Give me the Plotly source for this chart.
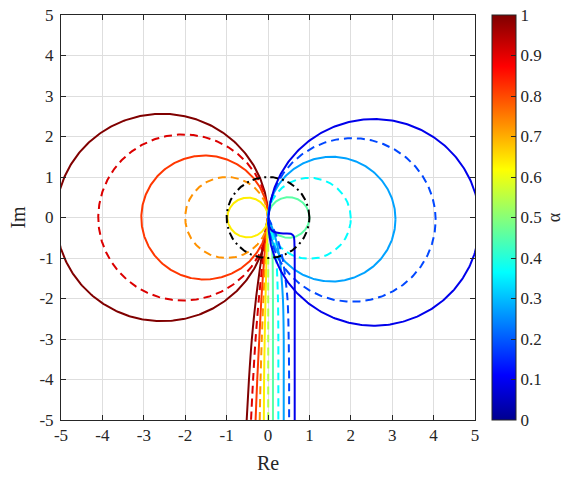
import numpy as np
import plotly.graph_objects as go

# ---------------- data ----------------
# colour value of each curve (colormap position) – 11 curves, from alpha = 1 down
alpha_color = [11/11, 10/11, 9/11, 8/11, 7/11, 6/11, 5/11, 4/11, 3/11, 2/11, 1/11]
line_dash = ["solid", "dash", "solid", "dash", "solid", "dash",
             "solid", "dash", "solid", "dash", "solid"]
# circles through (about) the origin: centre and radius
circle_cx = [-2.56, -2.05, -1.53, -1.00, -0.49, None, 0.50, 1.00, 1.54, 2.03, 2.56]
circle_cy = [0.0, 0.0, 0.0, 0.0, 0.0, None, 0.0, -0.02, -0.04, -0.06, -0.12]
circle_r = [2.56, 2.05, 1.53, 1.00, 0.49, None, 0.50, 1.00, 1.54, 2.02, 2.55]
# tails running from the origin down to Im = -5
tail_y = [0, -0.25, -0.5, -1, -2, -3, -4, -5]
tail_x = [
    [0, -0.05, -0.09, -0.16, -0.29, -0.39, -0.46, -0.515],
    [0, -0.04, -0.07, -0.12, -0.22, -0.30, -0.36, -0.41],
    [0, -0.03, -0.05, -0.09, -0.16, -0.21, -0.26, -0.30],
    [0, -0.02, -0.035, -0.06, -0.11, -0.15, -0.18, -0.20],
    [0, -0.01, -0.02, -0.035, -0.06, -0.08, -0.095, -0.10],
    [0, 0.0, 0.003, 0.005, 0.005, 0.005, 0.005, 0.005],
    [0, 0.05, 0.08, 0.11, 0.12, 0.12, 0.12, 0.12],
    [0, 0.08, 0.14, 0.20, 0.24, 0.25, 0.25, 0.25],
    [0, 0.10, 0.18, 0.28, 0.36, 0.38, 0.38, 0.38],
    [0, 0.12, 0.22, 0.35, 0.47, 0.50, 0.51, 0.51],
    None,
]
# the alpha = 0 tail has a hook
hook_x = [0, 0.03, 0.10, 0.30, 0.55, 0.62, 0.64, 0.645, 0.645, 0.645]
hook_y = [-0.12, -0.22, -0.33, -0.39, -0.40, -0.46, -0.70, -1.0, -3.0, -5.0]

unit_circle_r = 1.0
axis_ticks = [-5, -4, -3, -2, -1, 0, 1, 2, 3, 4, 5]
axis_ticktext = ["-5", "-4", "-3", "-2", "-1", "0", "1", "2", "3", "4", "5"]
cbar_ticks = [0, 0.1, 0.2, 0.3, 0.4, 0.5, 0.6, 0.7, 0.8, 0.9, 1]
cbar_ticktext = ["0", "0.1", "0.2", "0.3", "0.4", "0.5", "0.6", "0.7", "0.8", "0.9", "1"]


# ---------------- MATLAB jet(64) ----------------
def matlab_jet(m=64):
    n = int(np.ceil(m / 4))
    u = np.concatenate([np.arange(1, n + 1) / n, np.ones(n - 1), np.arange(n, 0, -1) / n])
    g = int(np.ceil(n / 2)) - (1 if m % 4 == 1 else 0) + np.arange(1, len(u) + 1)
    r = g + n
    b = g - n
    r = r[r <= m]
    gg = g[g <= m]
    b = b[b >= 1]
    J = np.zeros((m, 3))
    J[r - 1, 0] = u[:len(r)]
    J[gg - 1, 1] = u[:len(gg)]
    J[b - 1, 2] = u[len(u) - len(b):]
    return J


JET = matlab_jet(64)


def jet_color(v):
    pos = v * 63
    i0 = int(np.floor(pos))
    i1 = min(i0 + 1, 63)
    f = pos - i0
    c = JET[i0] * (1 - f) + JET[i1] * f
    return "rgb(%d,%d,%d)" % tuple(np.round(c * 255).astype(int))


colorscale = [[k / 63, "rgb(%d,%d,%d)" % tuple(np.round(JET[k] * 255).astype(int))] for k in range(64)]

SERIF = "Liberation Serif"
TXT = "#262626"
DASH = {"solid": "solid", "dash": "8px,5px"}
LW = 2.0

fig = go.Figure()

for i in range(len(alpha_color)):
    col = jet_color(alpha_color[i])
    dash = DASH[line_dash[i]]
    if circle_r[i] is not None:
        th = np.linspace(0, 2 * np.pi, 400)
        cx, cy, r = circle_cx[i], circle_cy[i], circle_r[i]
        fig.add_trace(go.Scatter(x=cx + r * np.cos(th), y=cy + r * np.sin(th), mode="lines",
                                 line=dict(color=col, width=LW, dash=dash),
                                 showlegend=False, hoverinfo="skip"))
    if tail_x[i] is not None:
        tx, ty = tail_x[i], tail_y
    else:
        tx, ty = hook_x, hook_y
    fig.add_trace(go.Scatter(x=tx, y=ty, mode="lines",
                             line=dict(color=col, width=LW, dash=dash, shape="spline", smoothing=0.8),
                             showlegend=False, hoverinfo="skip"))

th = np.linspace(0, 2 * np.pi, 400)
fig.add_trace(go.Scatter(x=unit_circle_r * np.cos(th), y=unit_circle_r * np.sin(th), mode="lines",
                         line=dict(color="black", width=LW, dash="8px,4px,2px,4px"),
                         showlegend=False, hoverinfo="skip"))

# colorbar holder
fig.add_trace(go.Scatter(x=[None], y=[None], mode="markers",
                         marker=dict(color=[0.5], cmin=0, cmax=1, colorscale=colorscale, showscale=True,
                                     colorbar=dict(x=(492 - 61) / 414, xanchor="left", xpad=0, ypad=0,
                                                   y=0.5, yanchor="middle", len=1, lenmode="fraction",
                                                   thickness=24, outlinewidth=1, outlinecolor=TXT,
                                                   tickvals=cbar_ticks, ticktext=cbar_ticktext,
                                                   ticks="inside", ticklen=5, tickcolor=TXT,
                                                   ticklabeloverflow="allow",
                                                   tickfont=dict(family=SERIF, size=17, color=TXT),
                                                   title=dict(text="α", side="right",
                                                              font=dict(family=SERIF, size=18, color=TXT)))),
                         showlegend=False, hoverinfo="skip"))

axis_common = dict(range=[-5, 5], tickvals=axis_ticks, ticktext=axis_ticktext,
                   showgrid=True, gridcolor="#dedede", gridwidth=1, zeroline=False,
                   showline=True, linecolor=TXT, linewidth=1, mirror="ticks",
                   ticks="inside", ticklen=5, tickcolor=TXT, ticklabeloverflow="allow",
                   tickfont=dict(family=SERIF, size=17, color=TXT))

fig.update_layout(
    width=582, height=482,
    margin=dict(l=61, r=107, t=6, b=62),
    font=dict(family=SERIF, size=17, color=TXT),
    plot_bgcolor="white", paper_bgcolor="white",
    xaxis=dict(**axis_common, title=dict(text="Re", standoff=11,
                                         font=dict(family=SERIF, size=20, color=TXT))),
    yaxis=dict(**axis_common, ticklabelstandoff=3,
               title=dict(text="Im", standoff=8, font=dict(family=SERIF, size=20, color=TXT))),
)

fig.write_html("out.html")
